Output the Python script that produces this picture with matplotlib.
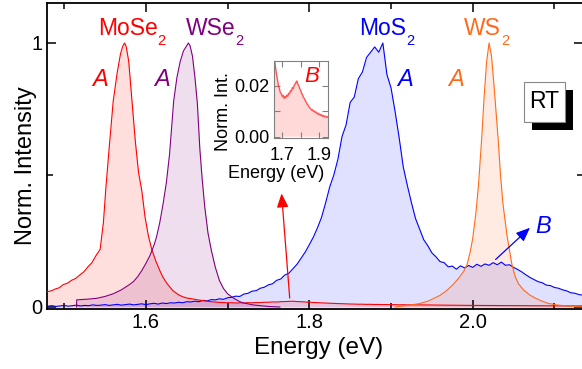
import matplotlib
matplotlib.use("Agg")
import matplotlib.pyplot as plt
from matplotlib.patches import Rectangle
from matplotlib.ticker import MultipleLocator

plt.rcParams['font.family'] = ['Liberation Sans', 'DejaVu Sans']
plt.rcParams['mathtext.fontset'] = 'custom'
plt.rcParams['mathtext.rm'] = 'Liberation Sans'
plt.rcParams['mathtext.it'] = 'Liberation Sans:italic'
plt.rcParams['mathtext.default'] = 'regular'

# MoSe2 spectrum
mose2_energy = [1.479, 1.484, 1.489, 1.494, 1.499, 1.504, 1.509, 1.514, 1.519, 1.524,
                1.529, 1.534, 1.539, 1.544, 1.548, 1.551, 1.555, 1.560, 1.565, 1.569,
                1.572, 1.574, 1.576, 1.579, 1.583, 1.587, 1.591, 1.595, 1.599, 1.603,
                1.607, 1.612, 1.617, 1.621, 1.626, 1.633, 1.640, 1.645, 1.650,
                1.655, 1.660, 1.665, 1.670, 1.675, 1.680, 1.685, 1.690, 1.695, 1.700,
                1.705, 1.710, 1.715, 1.720, 1.725, 1.730, 1.735, 1.740, 1.745, 1.750,
                1.755, 1.760, 1.765, 1.770, 1.775, 1.780, 1.785, 1.790, 1.795, 1.800,
                1.805, 1.810, 1.815, 1.820, 1.825, 1.830, 1.835, 1.840, 1.845, 1.850,
                1.855, 1.860, 1.865, 1.870, 1.875, 1.880, 1.885, 1.890, 1.895, 1.900,
                1.905, 1.910, 1.915, 1.920, 1.925, 1.930, 1.935, 1.940, 1.945, 1.950,
                1.970, 2.000, 2.030, 2.060, 2.090, 2.120, 2.135]
mose2_intensity = [0.058, 0.061, 0.068, 0.073, 0.085, 0.090, 0.101, 0.108, 0.121, 0.133,
                   0.152, 0.168, 0.195, 0.218, 0.320, 0.450, 0.600, 0.780, 0.890, 0.960,
                   0.990, 1.000, 0.985, 0.930, 0.780, 0.630, 0.510, 0.440, 0.340, 0.270,
                   0.220, 0.175, 0.138, 0.112, 0.088, 0.062, 0.046, 0.039, 0.034,
                   0.0315, 0.0290, 0.0262, 0.0240, 0.0218, 0.0199, 0.0186, 0.0172, 0.0168, 0.0158,
                   0.0162, 0.0150, 0.0158, 0.0152, 0.0163, 0.0158, 0.0170, 0.0168, 0.0180, 0.0178,
                   0.0192, 0.0188, 0.0201, 0.0205, 0.0213, 0.0218, 0.0206, 0.0200, 0.0188, 0.0184,
                   0.0170, 0.0166, 0.0155, 0.0150, 0.0142, 0.0137, 0.0128, 0.0125, 0.0118, 0.0113,
                   0.0110, 0.0104, 0.0106, 0.0099, 0.0101, 0.0095, 0.0097, 0.0090, 0.0092, 0.0086,
                   0.0089, 0.0083, 0.0086, 0.0080, 0.0083, 0.0078, 0.0081, 0.0076, 0.0079, 0.0075,
                   0.0068, 0.0060, 0.0055, 0.0050, 0.0045, 0.0040, 0.0040]

# WSe2 spectrum
wse2_energy = [1.5152, 1.5153, 1.520, 1.530, 1.540, 1.550, 1.560, 1.570, 1.580, 1.585,
               1.590, 1.595, 1.600, 1.605, 1.610, 1.613, 1.617, 1.621, 1.625, 1.629,
               1.634, 1.638, 1.642, 1.646, 1.650, 1.652, 1.654, 1.657, 1.660, 1.663,
               1.666, 1.669, 1.672, 1.676, 1.680, 1.685, 1.690, 1.695, 1.700, 1.707,
               1.715, 1.720, 1.731, 1.740, 1.750, 1.764]
wse2_intensity = [0.000, 0.027, 0.028, 0.030, 0.033, 0.040, 0.050, 0.065, 0.085, 0.097,
                  0.115, 0.138, 0.165, 0.195, 0.235, 0.265, 0.320, 0.390, 0.470, 0.580,
                  0.780, 0.870, 0.930, 0.970, 0.990, 1.000, 0.990, 0.950, 0.870, 0.770,
                  0.600, 0.480, 0.380, 0.280, 0.216, 0.150, 0.100, 0.070, 0.050, 0.034,
                  0.020, 0.015, 0.008, 0.005, 0.002, 0.000]

# MoS2 spectrum
mos2_energy = [1.480, 1.485, 1.490, 1.495, 1.500, 1.505, 1.510, 1.515, 1.520, 1.525,
               1.530, 1.535, 1.540, 1.545, 1.550, 1.555, 1.560, 1.565, 1.570, 1.575,
               1.580, 1.585, 1.590, 1.595, 1.600, 1.605, 1.610, 1.615, 1.620, 1.625,
               1.630, 1.635, 1.640, 1.645, 1.650, 1.655, 1.660, 1.665, 1.670, 1.675,
               1.680, 1.685, 1.690, 1.695, 1.700, 1.705, 1.710, 1.715, 1.720, 1.725,
               1.730, 1.735, 1.740, 1.745, 1.750, 1.755, 1.760, 1.765, 1.770, 1.775,
               1.780, 1.785, 1.790, 1.795, 1.800, 1.805, 1.810, 1.815, 1.820, 1.825,
               1.830, 1.835, 1.840, 1.845, 1.850, 1.855, 1.860, 1.865, 1.870, 1.875,
               1.880, 1.885, 1.890, 1.895, 1.900, 1.905, 1.910, 1.915, 1.920, 1.925,
               1.930, 1.935, 1.940, 1.945, 1.950, 1.955, 1.960, 1.965, 1.970, 1.975,
               1.980, 1.985, 1.990, 1.995, 2.000, 2.005, 2.010, 2.015, 2.020, 2.025,
               2.030, 2.035, 2.040, 2.045, 2.050, 2.055, 2.060, 2.065, 2.070, 2.075,
               2.080, 2.085, 2.090, 2.095, 2.100, 2.105, 2.110, 2.115, 2.120, 2.125,
               2.130, 2.135]
mos2_intensity = [0.003, 0.005, 0.002, 0.004, 0.006, 0.003, 0.005, 0.007, 0.004, 0.006,
                  0.005, 0.008, 0.006, 0.007, 0.009, 0.006, 0.008, 0.010, 0.007, 0.009,
                  0.011, 0.008, 0.010, 0.012, 0.009, 0.012, 0.014, 0.011, 0.015, 0.013,
                  0.016, 0.015, 0.018, 0.016, 0.020, 0.019, 0.022, 0.020, 0.025, 0.023,
                  0.028, 0.027, 0.031, 0.029, 0.035, 0.037, 0.041, 0.040, 0.049, 0.052,
                  0.060, 0.062, 0.071, 0.075, 0.084, 0.088, 0.101, 0.106, 0.121, 0.128,
                  0.145, 0.162, 0.185, 0.208, 0.236, 0.265, 0.300, 0.340, 0.395, 0.455,
                  0.500, 0.560, 0.645, 0.690, 0.775, 0.795, 0.865, 0.890, 0.945, 0.965,
                  0.985, 0.965, 1.000, 0.880, 0.830, 0.740, 0.640, 0.530, 0.460, 0.395,
                  0.335, 0.295, 0.255, 0.232, 0.205, 0.190, 0.172, 0.168, 0.152, 0.155,
                  0.143, 0.156, 0.148, 0.157, 0.150, 0.162, 0.154, 0.163, 0.158, 0.168,
                  0.160, 0.170, 0.158, 0.160, 0.150, 0.142, 0.133, 0.122, 0.112, 0.104,
                  0.096, 0.092, 0.083, 0.081, 0.074, 0.071, 0.065, 0.061, 0.054, 0.052,
                  0.047, 0.045]

# WS2 spectrum
ws2_energy = [1.905, 1.915, 1.925, 1.935, 1.945, 1.952, 1.960, 1.968, 1.976, 1.983,
              1.989, 1.993, 1.997, 2.000, 2.004, 2.007, 2.011, 2.014, 2.017, 2.020,
              2.023, 2.026, 2.029, 2.031, 2.034, 2.037, 2.042, 2.048, 2.052, 2.056,
              2.062, 2.070, 2.077, 2.085, 2.092, 2.102, 2.115, 2.130, 2.140]
ws2_intensity = [0.000, 0.004, 0.008, 0.013, 0.022, 0.032, 0.044, 0.062, 0.085, 0.110,
                 0.135, 0.160, 0.210, 0.260, 0.360, 0.460, 0.640, 0.800, 0.930, 1.000,
                 0.950, 0.840, 0.720, 0.640, 0.500, 0.390, 0.270, 0.160, 0.115, 0.088,
                 0.065, 0.045, 0.033, 0.022, 0.014, 0.008, 0.004, 0.001, 0.000]

series = [
    (mos2_energy, mos2_intensity, '#0000ff', 0.12),
    (mose2_energy, mose2_intensity, '#ff0000', 0.13),
    (wse2_energy, wse2_intensity, '#800080', 0.13),
    (ws2_energy, ws2_intensity, '#ff6a1a', 0.13),
]

# name label: (base text, centre energy of base text, colour)
names = [('MoSe', 1.5775, '#ff0000'), ('WSe', 1.6795, '#800080'),
         ('MoS', 1.8899, '#0000ff'), ('WS', 2.0119, '#ff6a1a')]
a_labels = [(1.5437, '#ff0000'), (1.620, '#800080'), (1.9175, '#0000ff'), (1.9798, '#ff6a1a')]

fig = plt.figure(figsize=(5.82, 3.69), dpi=100)
ax = fig.add_axes([0.0808, 0.1626, 0.921, 0.8293])

for e, i, c, a in series:
    ax.fill_between(e, i, 0, color=c, alpha=a, lw=0, zorder=1)
for e, i, c, a in series:
    ax.plot(e, i, color=c, lw=0.8, zorder=3)

ax.set_xlim(1.479, 2.135)
ax.set_ylim(-0.0076, 1.1515)
ax.xaxis.set_minor_locator(MultipleLocator(0.1))
ax.yaxis.set_minor_locator(MultipleLocator(0.5))
ax.set_xticks([1.6, 1.8, 2.0])
ax.set_xticklabels(['1.6', '1.8', '2.0'])
ax.set_yticks([0, 1])
ax.set_yticklabels(['0', '1'])
ax.tick_params(which='both', direction='in', top=True, right=True, width=1.1,
               labelsize=14.5, pad=3)
ax.tick_params(which='major', length=6.5)
ax.tick_params(which='minor', length=4.3)
for s in ax.spines.values():
    s.set_linewidth(1.3)

ax.set_xlabel('Energy (eV)', fontsize=17.5)
ax.set_ylabel('Norm. Intensity', fontsize=17)
ax.xaxis.set_label_coords(0.5075, -0.092)
ax.yaxis.set_label_coords(-0.0187, 0.467)

# material names with low-set subscript
for txt, x, c in names:
    t = ax.text(x, 1.03, txt, color=c, fontsize=16.5, ha='center', va='baseline')
    ax.annotate('2', xy=(1, 0), xycoords=t, xytext=(0, 4.3), textcoords='offset points',
                color=c, fontsize=10.5, ha='left', va='top')

# exciton labels
for x, c in a_labels:
    ax.text(x, 0.837, 'A', color=c, fontsize=17, style='italic', ha='center', va='baseline')
ax.text(2.0858, 0.28, 'B', color='#0000ff', fontsize=17, style='italic', ha='center', va='baseline')

ax.annotate('', xy=(1.766, 0.43), xytext=(1.776, 0.034),
            arrowprops=dict(arrowstyle='-|>,head_length=0.6,head_width=0.25',
                            color='#ff0000', lw=0.9, mutation_scale=14, shrinkA=0, shrinkB=0),
            zorder=4)
ax.annotate('', xy=(2.070, 0.30), xytext=(2.028, 0.18),
            arrowprops=dict(arrowstyle='-|>,head_length=0.6,head_width=0.25',
                            color='#0000ff', lw=0.9, mutation_scale=14, shrinkA=0, shrinkB=0),
            zorder=4)

# RT box with shadow
fig.add_artist(Rectangle((532 / 582, 1 - 130 / 369), 41 / 582, 40 / 369,
                         transform=fig.transFigure, facecolor='black', edgecolor='none'))
fig.add_artist(Rectangle((524 / 582, 1 - 122 / 369), 41 / 582, 40 / 369,
                         transform=fig.transFigure, facecolor='white', edgecolor='#888888', lw=0.8))
fig.text(544.5 / 582, 1 - 102 / 369, 'RT', ha='center', va='center', fontsize=16.5)

# inset: MoSe2 B exciton
axin = fig.add_axes([274 / 582, 1 - 138 / 369, 54 / 582, 77 / 369])
axin.fill_between(mose2_energy, mose2_intensity, 0, color='#ffd8d8', lw=0)
axin.plot(mose2_energy, mose2_intensity, color='#ff3030', lw=1.0, alpha=0.8)
axin.set_xlim(1.655, 1.95)
axin.set_ylim(-0.0005, 0.0296)
axin.set_xticks([1.7, 1.9])
axin.set_xticklabels(['1.7', '1.9'])
axin.xaxis.set_minor_locator(MultipleLocator(0.1))
axin.set_yticks([0, 0.02])
axin.set_yticklabels(['0.00', '0.02'])
axin.yaxis.set_minor_locator(MultipleLocator(0.01))
axin.tick_params(which='both', direction='in', top=True, right=True, color='#808080',
                 width=0.8, labelsize=13, length=4)
axin.tick_params(axis='x', pad=6.5)
axin.tick_params(axis='y', pad=3)
for s in axin.spines.values():
    s.set_color('#808080')
    s.set_linewidth(0.8)
axin.set_xlabel('Energy (eV)', fontsize=13)
axin.set_ylabel('Norm. Int.', fontsize=13)
axin.xaxis.set_label_coords(0.04, -0.35)
axin.yaxis.set_label_coords(-0.78, 0.34)
axin.text(0.69, 0.80, 'B', transform=axin.transAxes, color='#ff0000', fontsize=16,
          style='italic', ha='center', va='center')

fig.savefig('out.png', dpi=100)
